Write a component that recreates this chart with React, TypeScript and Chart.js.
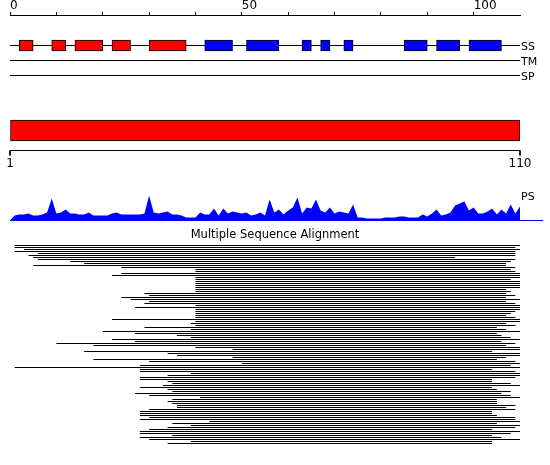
import React, { useEffect, useRef } from 'react';
import { Chart, registerables } from 'chart.js';

Chart.register(...registerables);

// ---------- data ----------
const SEQ_LENGTH = 110;
const LABELED_TICKS = [0, 50, 100];
const RULER_LABELS = ['1', '110'];

// secondary structure segments (residue ranges)
const SS_HELIX: [number, number][] = [
  [2, 5], [9, 12], [14, 20], [22, 26], [30, 38],
];
const SS_STRAND: [number, number][] = [
  [42, 48], [51, 58], [63, 65], [67, 69], [72, 74], [85, 90], [92, 97], [99, 106],
];

// PS profile, one value per residue position 0..111
const PS_VALUES = [
  0, 5, 6, 6, 7, 5, 5, 6, 8, 22, 7, 8, 11, 7, 7, 6, 6, 8, 5, 5,
  5, 5, 7, 8, 6, 6, 6, 6, 6, 7, 25, 8, 7, 8, 9, 6, 6, 5, 3, 3,
  3, 8, 6, 6, 12, 5, 12, 7, 9, 8, 7, 8, 5, 6, 8, 5, 21, 8, 11, 6,
  10, 13, 23, 7, 13, 12, 21, 10, 8, 13, 7, 9, 8, 7, 16, 3, 3, 2, 2, 2,
  2, 3, 3, 3, 4, 4, 3, 3, 3, 6, 4, 7, 11, 5, 6, 8, 15, 17, 19, 10,
  13, 7, 7, 9, 12, 6, 11, 7, 16, 7, 14, 0,
];
const PS_BASELINE_END = 115;

// multiple sequence alignment: start / end residue of each aligned sequence
const MSA_START = [
  1, 1, 3, 1, 6, 4, 5, 6, 13, 16, 5, 24, 40, 40, 24, 22, 40, 40, 40, 40,
  40, 40, 40, 40, 29, 30, 24, 26, 30, 29, 40, 27, 40, 40, 40, 40, 40, 22, 40, 39,
  40, 29, 39, 20, 27, 36, 39, 22,
  27, 10, 18, 40, 48, 16, 34, 36, 48, 18, 30, 50, 28, 1, 28, 28, 39, 34, 28, 28,
  34, 35, 33, 28, 34, 35, 27, 30, 41, 35, 34, 35, 36, 36, 30, 28, 28, 28, 30, 28,
  43, 35, 39, 34, 30, 28, 28, 35, 28, 30, 39, 34,
];
const MSA_END = [
  110, 109, 110, 109, 109, 109, 96, 109, 108, 107, 107, 109, 108, 109, 110, 110, 110, 108, 110, 110,
  110, 110, 107, 108, 107, 109, 107, 110, 107, 109, 110, 110, 110, 109, 108, 107, 109, 110, 110, 107,
  109, 105, 107, 110, 105, 106, 108, 110,
  106, 109, 107, 110, 110, 104, 110, 110, 107, 105, 109, 110, 108, 110, 104, 109, 110, 110, 109, 104,
  104, 108, 110, 104, 105, 108, 106, 108, 110, 105, 105, 105, 109, 107, 109, 104, 104, 105, 109, 109,
  110, 105, 110, 109, 104, 110, 108, 104, 106, 110, 104, 104,
];

const TRACKS = [
  { label: 'SS', y: 30.5 },
  { label: 'TM', y: 45.5 },
  { label: 'SP', y: 60.5 },
];

// ---------- layout (layout-axis units = px below plot top) ----------
const FONT = '"DejaVu Sans", sans-serif';
const BAR_Y = 115.5;
const RULER_Y = 135.5;
const RULER_TICK = 5;

export default function App() {
  const ref = useRef<HTMLCanvasElement | null>(null);

  useEffect(() => {
    document.body.style.margin = '0';
    const canvas = ref.current;
    if (!canvas) return;

    const lineDs = (data: any[], color: string, yAxisID: string, extra: any = {}) => ({
      type: 'line',
      data,
      borderColor: color,
      backgroundColor: color,
      borderWidth: 1,
      pointRadius: 0,
      tension: 0,
      fill: false,
      yAxisID,
      xAxisID: 'x',
      order: 5,
      clip: false,
      ...extra,
    });

    const barDs = (data: any[], color: string, thickness: number) => ({
      type: 'bar',
      indexAxis: 'y',
      data,
      backgroundColor: color,
      borderColor: '#000000',
      borderWidth: 1,
      borderSkipped: false,
      barThickness: thickness,
      stack: 'ss',
      yAxisID: 'yLayout',
      xAxisID: 'x',
      order: 0,
    });

    const datasets: any[] = [];

    // SS boxes
    datasets.push(barDs(SS_HELIX.map((r) => ({ x: r, y: TRACKS[0].y })), '#ff0000', 11));
    datasets.push(barDs(SS_STRAND.map((r) => ({ x: r, y: TRACKS[0].y })), '#0000ff', 11));
    // full-length bar
    datasets.push(barDs([{ x: [0, SEQ_LENGTH], y: BAR_Y }], '#ff0000', 21));

    // track lines
    TRACKS.forEach((t) => {
      datasets.push(lineDs([{ x: 0, y: t.y }, { x: SEQ_LENGTH, y: t.y }], '#000000', 'yLayout'));
    });

    // ruler under bar
    datasets.push(lineDs([{ x: 0, y: RULER_Y }, { x: SEQ_LENGTH, y: RULER_Y }], '#000000', 'yLayout'));
    datasets.push(lineDs([{ x: 0, y: RULER_Y }, { x: 0, y: RULER_Y + RULER_TICK }], '#000000', 'yLayout'));
    datasets.push(lineDs([{ x: SEQ_LENGTH, y: RULER_Y }, { x: SEQ_LENGTH, y: RULER_Y + RULER_TICK }], '#000000', 'yLayout'));

    // PS profile
    datasets.push(lineDs(PS_VALUES.map((v, i) => ({ x: i, y: v })), '#0000ff', 'yPS', {
      fill: 'origin',
      borderWidth: 0,
      backgroundColor: '#0000ff',
      order: 3,
    }));
    datasets.push(lineDs([{ x: 0, y: 0 }, { x: PS_BASELINE_END, y: 0 }], '#0000ff', 'yPS', { order: 2 }));

    // MSA
    const msa: any[] = [];
    MSA_START.forEach((s, i) => {
      msa.push({ x: s, y: i }, { x: MSA_END[i], y: i }, { x: MSA_END[i], y: null });
    });
    datasets.push(lineDs(msa, '#000000', 'yMsa', { spanGaps: false }));

    const textPlugin = {
      id: 'trackText',
      afterDatasetsDraw(chart: any) {
        const { ctx, scales } = chart;
        const x = scales.x;
        const yL = scales.yLayout;
        ctx.save();
        ctx.fillStyle = '#000';
        ctx.font = `11px ${FONT}`;
        ctx.textBaseline = 'alphabetic';
        ctx.textAlign = 'left';
        const xr = x.getPixelForValue(SEQ_LENGTH) + 1;
        TRACKS.forEach((t) => ctx.fillText(t.label, xr, yL.getPixelForValue(t.y) + 4));
        ctx.fillText('PS', xr, yL.getPixelForValue(185));
        ctx.textAlign = 'center';
        ctx.font = `11.5px ${FONT}`;
        ctx.fillText('Multiple Sequence Alignment', chart.width / 2, yL.getPixelForValue(223));
        ctx.font = `12px ${FONT}`;
        ctx.fillText(RULER_LABELS[0], x.getPixelForValue(0), yL.getPixelForValue(152));
        ctx.fillText(RULER_LABELS[1], x.getPixelForValue(SEQ_LENGTH), yL.getPixelForValue(152));
        ctx.restore();
      },
    };

    const chart = new Chart(canvas, {
      type: 'line',
      data: { datasets },
      options: {
        responsive: false,
        animation: false,
        devicePixelRatio: 1,
        layout: { padding: { left: 10, right: 30, top: 0, bottom: 0 } },
        plugins: { legend: { display: false }, tooltip: { enabled: false } },
        events: [],
        scales: {
          x: {
            type: 'linear',
            position: 'top',
            min: 0,
            max: SEQ_LENGTH,
            stacked: false,
            offset: false,
            ticks: {
              stepSize: 10,
              autoSkip: false,
              maxRotation: 0,
              align: 'start',
              padding: 0,
              color: '#000',
              font: { family: FONT, size: 12, lineHeight: 1 },
              callback: (v: any) => (LABELED_TICKS.includes(v) ? String(v) : ''),
            },
            grid: {
              offset: false,
              drawOnChartArea: false,
              drawTicks: true,
              tickLength: 3,
              tickColor: (c: any) => (c.tick && c.tick.value === SEQ_LENGTH ? 'rgba(0,0,0,0)' : '#000'),
            },
            border: { display: true, color: '#000', width: 1 },
          },
          yLayout: { axis: 'y', type: 'linear', display: false, min: 0, max: 450, reverse: true, offset: false, grid: { offset: false } },
          yPS: { axis: 'y', type: 'linear', display: false, min: -244.5, max: 205.5, offset: false },
          yMsa: { axis: 'y', type: 'linear', display: false, min: -115.25, max: 109.75, reverse: true, offset: false },
        },
      } as any,
      plugins: [textPlugin],
    });

    return () => chart.destroy();
  }, []);

  return <canvas ref={ref} width={550} height={465} style={{ display: 'block' }} />;
}
